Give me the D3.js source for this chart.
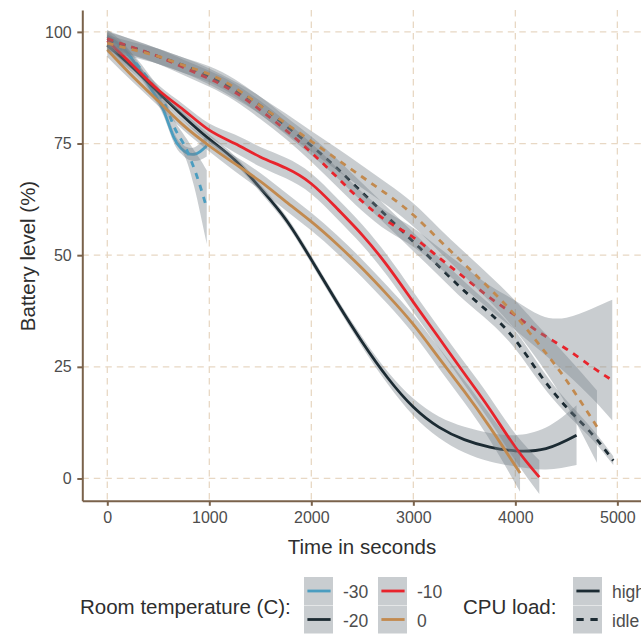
<!DOCTYPE html>
<html>
<head>
<meta charset="utf-8">
<script src="https://d3js.org/d3.v7.min.js"></script>
<style>
  body { margin: 0; background: #fff; }
  svg { display: block; font-family: "Liberation Sans", Arial, sans-serif; }
</style>
</head>
<body>
<svg id="chart" width="641" height="635"></svg>
<script>

// categories and ticks
var temps = ["-30", "-20", "-10", "0"];
var loads = ["high", "idle"];
var xTicks = [0, 1000, 2000, 3000, 4000, 5000];
var yTicks = [0, 25, 50, 75, 100];

// smoothed fits, one array per (temperature, load) group
// each row: time (s), fitted level (%), lower band, upper band
var m30High = [
    [0, 99, 97.5, 100.5], [150, 96.5, 95.3, 97.7], [300, 92, 90.8, 93.2],
    [450, 86.5, 85.3, 87.7], [550, 82.5, 81.3, 83.7], [650, 76.5, 75.3, 77.7],
    [720, 74, 72.8, 75.2], [780, 72.9, 71.6, 74.2], [850, 72.6, 71.1, 74.1],
    [910, 73.2, 71.3, 75.1], [975, 74.5, 72.1, 76.9]
];
var m30Idle = [
    [0, 98.5, 97, 100], [150, 96, 94.8, 97.2], [300, 92.5, 91.3, 93.7],
    [450, 88, 86.8, 89.2], [550, 84.5, 83.2, 85.8], [650, 79, 77.4, 80.6],
    [720, 76, 74, 78], [780, 73.5, 71, 76], [850, 69.5, 65.5, 73.5],
    [910, 65.5, 59.5, 71.5], [975, 60.5, 52.5, 69]
];
var m20High = [
    [0, 97, 95.4, 98.6], [250, 92, 90.9, 93.1], [500, 86.5, 85.5, 87.5],
    [750, 81, 80, 82], [1000, 76, 75, 77], [1250, 71.3, 70.4, 72.2],
    [1500, 65, 64.1, 65.9], [1750, 58, 57.1, 58.9], [2000, 49, 48.1, 49.9],
    [2250, 39.5, 38.6, 40.4], [2500, 30.5, 29.4, 31.6], [2750, 22.5, 21.1, 23.9],
    [3000, 16, 14.1, 17.9], [3250, 11.5, 9.1, 13.9], [3500, 8.7, 5.8, 11.6],
    [3750, 7, 3.8, 10.2], [4000, 6.2, 2.7, 9.7], [4300, 6.7, 2, 11.4],
    [4600, 9.7, 3, 16.4]
];
var m20Idle = [
    [0, 98, 96, 100], [250, 96.5, 94.7, 98.3], [500, 94.5, 92.8, 96.2],
    [750, 92.5, 90.8, 94.2], [1000, 90, 88.2, 91.8], [1250, 87, 85.1, 88.9],
    [1500, 83.5, 81.5, 85.5], [1750, 79, 77, 81], [2000, 74.5, 72.4, 76.6],
    [2250, 69.5, 67.4, 71.6], [2500, 64, 61.9, 66.1], [2750, 58.5, 56.4, 60.6],
    [3000, 53, 50.9, 55.1], [3250, 47.5, 45.4, 49.6], [3500, 42, 39.9, 44.1],
    [3750, 37, 35, 39], [4000, 31, 29, 33], [4250, 23, 21.2, 24.8],
    [4500, 16, 14.5, 17.5], [4750, 10, 8.8, 11.2], [4960, 4, 3, 5]
];
var m10High = [
    [0, 98, 96.5, 99.5], [250, 92.5, 91.3, 93.7], [500, 87, 85.9, 88.1],
    [750, 82.5, 81.3, 83.7], [1000, 78, 76.5, 79.5], [1250, 75, 73, 77],
    [1500, 72, 69.8, 74.2], [1750, 69.5, 67.2, 71.8], [2000, 66, 63.7, 68.3],
    [2250, 60.5, 58.2, 62.8], [2500, 54.5, 52.2, 56.8], [2750, 47.5, 45.2, 49.8],
    [3000, 39.5, 37.2, 41.8], [3250, 31.5, 29.2, 33.8], [3500, 23.5, 21, 26],
    [3750, 15.5, 12.8, 18.2], [4000, 7, 4, 10], [4235, 0.3, -3.5, 4.1]
];
var m10Idle = [
    [0, 98.5, 96.7, 100.3], [250, 96.5, 94.8, 98.2], [500, 94.5, 92.8, 96.2],
    [750, 92, 90.3, 93.7], [1000, 89.5, 87.7, 91.3], [1250, 86.5, 84.6, 88.4],
    [1500, 82.5, 80.5, 84.5], [1750, 78, 76, 80], [2000, 73, 70.9, 75.1],
    [2250, 67.5, 65.4, 69.6], [2500, 62, 59.9, 64.1], [2750, 57.5, 55.4, 59.6],
    [3000, 54, 51.9, 56.1], [3250, 49.5, 47.3, 51.7], [3500, 45, 42.6, 47.4],
    [3750, 40.5, 37.8, 43.2], [4000, 36.5, 33.2, 39.8], [4250, 32.5, 28.5, 36.5],
    [4500, 29, 23.5, 36], [4750, 25, 18, 38], [4950, 22, 13, 40]
];
var m0High = [
    [0, 96, 94.4, 97.6], [250, 90, 88.8, 91.2], [500, 84.5, 83.4, 85.6],
    [750, 79, 77.9, 80.1], [1000, 74.5, 73.2, 75.8], [1250, 70.5, 68.8, 72.2],
    [1500, 66.5, 64.6, 68.4], [1750, 62, 60, 64], [2000, 57.5, 55.5, 59.5],
    [2250, 52.5, 50.5, 54.5], [2500, 47, 45, 49], [2750, 41, 39, 43],
    [3000, 34.5, 32.4, 36.6], [3250, 27, 24.7, 29.3], [3500, 19.5, 17, 22],
    [3750, 11.5, 8.6, 14.4], [4046, 1.2, -3, 5.4]
];
var m0Idle = [
    [0, 97.5, 95.7, 99.3], [250, 96, 94.3, 97.7], [500, 94.5, 92.8, 96.2],
    [750, 92.5, 90.8, 94.2], [1000, 90.5, 88.7, 92.3], [1250, 87.5, 85.6, 89.4],
    [1500, 83.5, 81.5, 85.5], [1750, 79.5, 77.3, 81.7], [2000, 75.5, 73.2, 77.8],
    [2250, 71.5, 69, 74], [2500, 67.5, 65, 70], [2750, 63.5, 61, 66],
    [3000, 59, 56.4, 61.6], [3250, 53.5, 50.9, 56.1], [3500, 48, 45.3, 50.7],
    [3750, 42.5, 39.6, 45.4], [4000, 36.5, 33.2, 39.8], [4250, 29.5, 25.5, 33.5],
    [4500, 22, 16.5, 27.5], [4800, 11.6, 3.5, 19.7]
];

// drawing order follows the group order
var series = [
    {temp: "-30", load: "high", values: m30High},
    {temp: "-30", load: "idle", values: m30Idle},
    {temp: "-20", load: "high", values: m20High},
    {temp: "-20", load: "idle", values: m20Idle},
    {temp: "-10", load: "high", values: m10High},
    {temp: "-10", load: "idle", values: m10Idle},
    {temp: "0", load: "high", values: m0High},
    {temp: "0", load: "idle", values: m0Idle}
];

var tempColors = {"-30": "#4b9dc0", "-20": "#1c2b33", "-10": "#e8242c", "0": "#c28a4f"};
var dashes = {"high": null, "idle": "6.3,6.3"};
var bandFill = "#78828a";
var bandAlpha = 0.4;
var axisColor = "#7a624b";

var svg = d3.select("#chart");

// panel edges
var pLeft = 82.3, pTop = 10, pBottom = 500.8, pRight = 660;

var x = d3.scaleLinear().domain([-245, 5418]).range([pLeft, pRight]);
var y = d3.scaleLinear().domain([-5, 104.9]).range([pBottom, pTop]);

svg.append("defs").append("clipPath").attr("id", "panel")
    .append("rect")
    .attr("x", pLeft).attr("y", pTop)
    .attr("width", pRight - pLeft).attr("height", pBottom - pTop);

// dashed grid
var grid = svg.append("g");
grid.selectAll("line.v").data(xTicks).join("line")
    .attr("class", "v")
    .attr("x1", function (d) { return x(d); })
    .attr("x2", function (d) { return x(d); })
    .attr("y1", pTop).attr("y2", pBottom);
grid.selectAll("line.h").data(yTicks).join("line")
    .attr("class", "h")
    .attr("x1", pLeft).attr("x2", pRight)
    .attr("y1", function (d) { return y(d); })
    .attr("y2", function (d) { return y(d); });
grid.selectAll("line")
    .attr("stroke", "#e8d8c4")
    .attr("stroke-width", 1.3)
    .attr("stroke-dasharray", "6.5,5");

// smooth fits with their bands
var band = d3.area()
    .x(function (d) { return x(d[0]); })
    .y0(function (d) { return y(d[2]); })
    .y1(function (d) { return y(d[3]); })
    .curve(d3.curveNatural);

var fit = d3.line()
    .x(function (d) { return x(d[0]); })
    .y(function (d) { return y(d[1]); })
    .curve(d3.curveNatural);

var plot = svg.append("g").attr("clip-path", "url(#panel)");

series.forEach(function (s) {
    plot.append("path")
        .attr("d", band(s.values))
        .attr("fill", bandFill)
        .attr("fill-opacity", bandAlpha);
    plot.append("path")
        .attr("d", fit(s.values))
        .attr("fill", "none")
        .attr("stroke", tempColors[s.temp])
        .attr("stroke-width", 2.8)
        .attr("stroke-dasharray", dashes[s.load]);
});

// axes
var xAxis = svg.append("g")
    .attr("transform", "translate(0," + pBottom + ")")
    .call(d3.axisBottom(x).tickValues(xTicks).tickFormat(d3.format("d"))
        .tickSize(5).tickSizeOuter(0).tickPadding(6.3));
var yAxis = svg.append("g")
    .attr("transform", "translate(" + pLeft + ",0)")
    .call(d3.axisLeft(y).tickValues(yTicks).tickFormat(d3.format("d"))
        .tickSize(5).tickSizeOuter(0).tickPadding(5.6));

[xAxis, yAxis].forEach(function (g) {
    g.select(".domain").attr("stroke", axisColor).attr("stroke-width", 2);
    g.selectAll(".tick line").attr("stroke", axisColor).attr("stroke-width", 2);
    g.selectAll(".tick text")
        .attr("fill", "#4d4d4d")
        .attr("font-size", 16)
        .attr("font-family", "'Liberation Sans', Arial, sans-serif");
});

// axis titles
svg.append("text")
    .attr("x", 362).attr("y", 554)
    .attr("text-anchor", "middle")
    .attr("font-size", 20.5)
    .attr("fill", "#2e2e2e")
    .text("Time in seconds");

svg.append("text")
    .attr("transform", "translate(35,256) rotate(-90)")
    .attr("text-anchor", "middle")
    .attr("font-size", 20.5)
    .attr("fill", "#2e2e2e")
    .text("Battery level (%)");

// legend
var keyW = 29, keyH = 28;
var rowsY = [577, 605.5];

function drawKey(kx, ky, color, dash, label) {
    svg.append("rect")
        .attr("x", kx).attr("y", ky)
        .attr("width", keyW).attr("height", keyH)
        .attr("fill", bandFill)
        .attr("fill-opacity", bandAlpha);
    svg.append("line")
        .attr("x1", kx + 3.4).attr("x2", kx + 26.6)
        .attr("y1", ky + keyH / 2).attr("y2", ky + keyH / 2)
        .attr("stroke", color)
        .attr("stroke-width", 2.8)
        .attr("stroke-dasharray", dash ? "7.3,6.7" : null);
    svg.append("text")
        .attr("x", kx + keyW + 10).attr("y", ky + 21)
        .attr("font-size", 17.5)
        .attr("fill", "#4d4d4d")
        .text(label);
}

svg.append("text")
    .attr("x", 80).attr("y", 614)
    .attr("font-size", 20.5)
    .attr("fill", "#2e2e2e")
    .text("Room temperature (C):");

var tempCols = [304, 378];
temps.forEach(function (t, i) {
    drawKey(tempCols[Math.floor(i / 2)], rowsY[i % 2], tempColors[t], null, t);
});

svg.append("text")
    .attr("x", 463).attr("y", 614)
    .attr("font-size", 20.5)
    .attr("fill", "#2e2e2e")
    .text("CPU load:");

loads.forEach(function (l, i) {
    drawKey(573, rowsY[i], "#1c2b33", dashes[l], l);
});

</script>
</body>
</html>
